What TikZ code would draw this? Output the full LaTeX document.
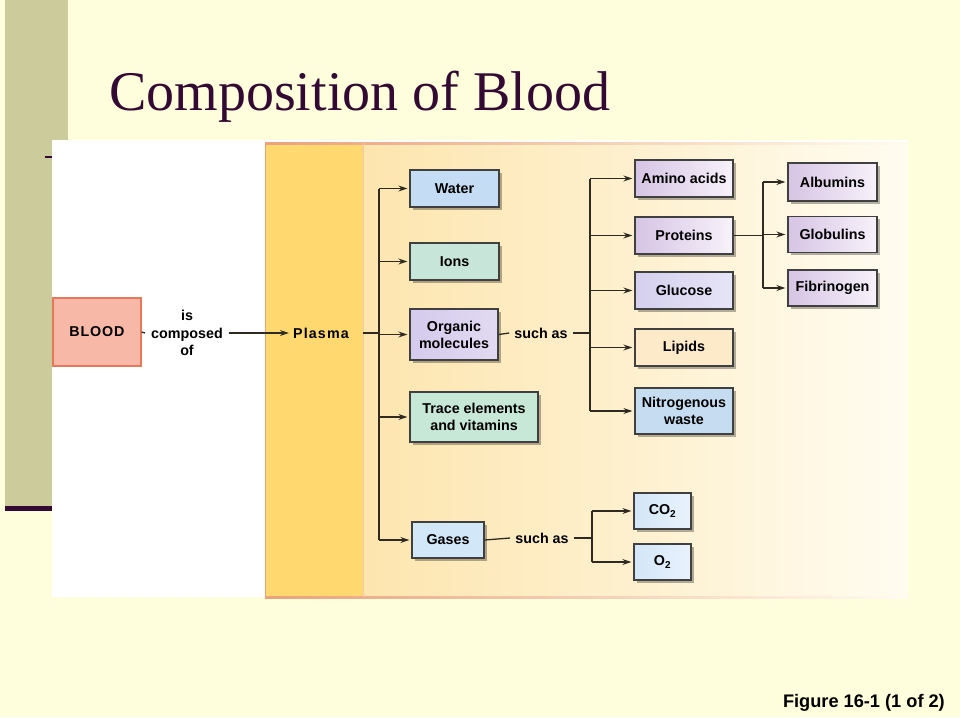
\documentclass[tikz,border=0pt]{standalone}
\usepackage{fontspec}
\setmainfont{Liberation Sans}
\newfontfamily\titlefont{Liberation Serif}
\usetikzlibrary{shadows,arrows.meta}
\definecolor{bgc}{HTML}{FEFEDC}
\definecolor{olive}{HTML}{CCCB9B}
\definecolor{plum}{HTML}{330A33}
\definecolor{plasmac}{HTML}{FFD970}
\definecolor{salmon}{HTML}{E9A27A}
\definecolor{regL}{HTML}{FDE5AE}
\definecolor{regR}{HTML}{FFFCF0}
\definecolor{boxb}{HTML}{404040}
\definecolor{linec}{HTML}{2E2A22}
\definecolor{bloodb}{HTML}{E8785A}
\definecolor{bloodf}{HTML}{F7B8A8}
\definecolor{purL}{HTML}{D6C4E4}
\definecolor{purR}{HTML}{F7F2FA}
\tikzset{
  box/.style={draw=boxb, line width=1.3pt, inner sep=2pt, align=center,
    font=\bfseries\fontsize{14.3}{17}\selectfont,
    drop shadow={shadow xshift=2.5pt, shadow yshift=-2.5pt, opacity=0.3, fill=black}},
  lab/.style={font=\bfseries\fontsize{14.3}{17.5}\selectfont, align=center},
  conn/.style={draw=linec, line width=1.3pt},
  arr/.style={conn, -{Stealth[length=9pt,width=6pt]}, shorten >=2pt},
  purp/.style={box, left color=purL, right color=purR},
}
\begin{document}
\begin{tikzpicture}[x=1pt,y=-1pt]
\useasboundingbox (0,0) rectangle (960,717);
% background
\fill[bgc] (0,0) rectangle (960,717);
\fill[olive] (5,0) rectangle (68,507);
\fill[plum] (5,506) rectangle (52,511);
\draw[plum, line width=1.5pt] (45,157) -- (52,157);
\node[anchor=base west, inner sep=0, text=plum, font=\titlefont\fontsize{56}{60}\selectfont] (title) at (109,110) {Composition of Blood};
% panel
\fill[white] (52,140) rectangle (908,597);
\shade[left color=regL, right color=regR] (363,143) rectangle (908,597);
\fill[plasmac] (265,143) rectangle (363,597);
\shade[left color=salmon, right color=regR] (265,142) rectangle (908,144);
\shade[left color=salmon, right color=regR] (265,596) rectangle (908,598);
\draw[salmon, line width=1.5pt] (265.5,143) -- (265.5,597);
\draw[salmon!60, line width=1pt] (363,143) -- (363,597);
% left part
\node[draw=bloodb, fill=bloodf, line width=1.2pt,
  minimum width=88pt, minimum height=68pt, font=\bfseries\fontsize{14.3}{16}\selectfont,
  inner sep=0] (blood) at (97,332) {\addfontfeature{LetterSpace=6}BLOOD};
\node[lab, inner sep=6pt] (comp) at (187,333) {is\\composed\\of};
\node[font=\bfseries\fontsize{14.3}{16}\selectfont, inner sep=2pt] (plasma) at (321,333) {\addfontfeature{LetterSpace=8}Plasma};
\draw[conn] (blood.east) -- (comp.west);
\draw[arr] (comp.east) -- (plasma.west);
% first level
\node[box, fill={rgb,255:red,196;green,221;blue,244}, minimum width=89pt, minimum height=37pt] (water) at (454.5,188.5) {Water};
\node[box, fill={rgb,255:red,199;green,229;blue,216}, minimum width=89pt, minimum height=37pt] (ions) at (454.5,261.5) {Ions};
\node[box, left color={rgb,255:red,212;green,202;blue,236}, right color={rgb,255:red,226;green,218;blue,242}, minimum width=88pt, minimum height=51pt] (org) at (454,334.5) {Organic\\molecules};
\node[box, fill={rgb,255:red,199;green,231;blue,215}, minimum width=128pt, minimum height=50pt] (trace) at (474,417) {Trace elements\\and vitamins};
\node[box, fill={rgb,255:red,210;green,231;blue,248}, minimum width=72pt, minimum height=36pt] (gases) at (448,540) {Gases};
\coordinate (plasmaR) at (363,333);
\coordinate (trunk) at (379,333);
\draw[conn] (plasmaR) -- (trunk);
\draw[conn] (trunk |- water.west) -- (trunk |- gases.west);
\foreach \n in {water,ions,org,trace,gases} \draw[arr] (trunk |- \n.west) -- (\n.west);
% organic molecules
\node[lab, inner sep=5pt] (sa1) at (541,333) {such as};
\draw[conn] (org.east) -- (sa1.west);
\coordinate (br1) at (590,333);
\draw[conn] (sa1.east) -- (br1);
\node[purp, minimum width=98pt, minimum height=37pt] (amino) at (684,178.5) {Amino acids};
\node[purp, minimum width=98pt, minimum height=37pt] (prot) at (684,235.5) {Proteins};
\node[box, left color={rgb,255:red,212;green,208;blue,238}, right color={rgb,255:red,230;green,228;blue,246}, minimum width=98pt, minimum height=37pt] (gluc) at (684,290.5) {Glucose};
\node[box, fill={rgb,255:red,252;green,234;blue,200}, minimum width=98pt, minimum height=37pt] (lip) at (684,347.5) {Lipids};
\node[box, fill={rgb,255:red,198;green,220;blue,240}, minimum width=98pt, minimum height=46pt] (nitro) at (684,411) {Nitrogenous\\waste};
\draw[conn] (br1 |- amino.west) -- (br1 |- nitro.west);
\foreach \n in {amino,prot,gluc,lip,nitro} \draw[arr] (br1 |- \n.west) -- (\n.west);
% proteins
\node[purp, minimum width=89pt, minimum height=38pt] (alb) at (832.5,182) {Albumins};
\node[purp, minimum width=89pt, minimum height=36pt] (glob) at (832.5,234.5) {Globulins};
\node[purp, minimum width=89pt, minimum height=36pt] (fib) at (832.5,288) {Fibrinogen};
\coordinate (br2) at (763,235.5);
\draw[conn] (prot.east) -- (br2);
\draw[conn] (br2 |- alb.west) -- (br2 |- fib.west);
\foreach \n in {alb,glob,fib} \draw[arr] (br2 |- \n.west) -- (\n.west);
% gases
\node[lab, inner sep=5pt] (sa2) at (542,538) {such as};
\draw[conn] (gases.east) -- (sa2.west);
\coordinate (br3) at (592,538);
\draw[conn] (sa2.east) -- (br3);
\node[box, left color={rgb,255:red,212;green,230;blue,248}, right color={rgb,255:red,232;green,242;blue,252}, minimum width=57pt, minimum height=36pt] (co2) at (662.5,511) {CO\textsubscript{2}};
\node[box, left color={rgb,255:red,212;green,230;blue,248}, right color={rgb,255:red,232;green,242;blue,252}, minimum width=57pt, minimum height=36pt] (o2) at (662.5,562) {O\textsubscript{2}};
\draw[conn] (br3 |- co2.west) -- (br3 |- o2.west);
\foreach \n in {co2,o2} \draw[arr] (br3 |- \n.west) -- (\n.west);
% caption
\node[anchor=base east, inner sep=0, font=\bfseries\fontsize{18.2}{20}\selectfont] (fig) at (945,707) {Figure 16-1 (1 of 2)};
\end{tikzpicture}
\end{document}
